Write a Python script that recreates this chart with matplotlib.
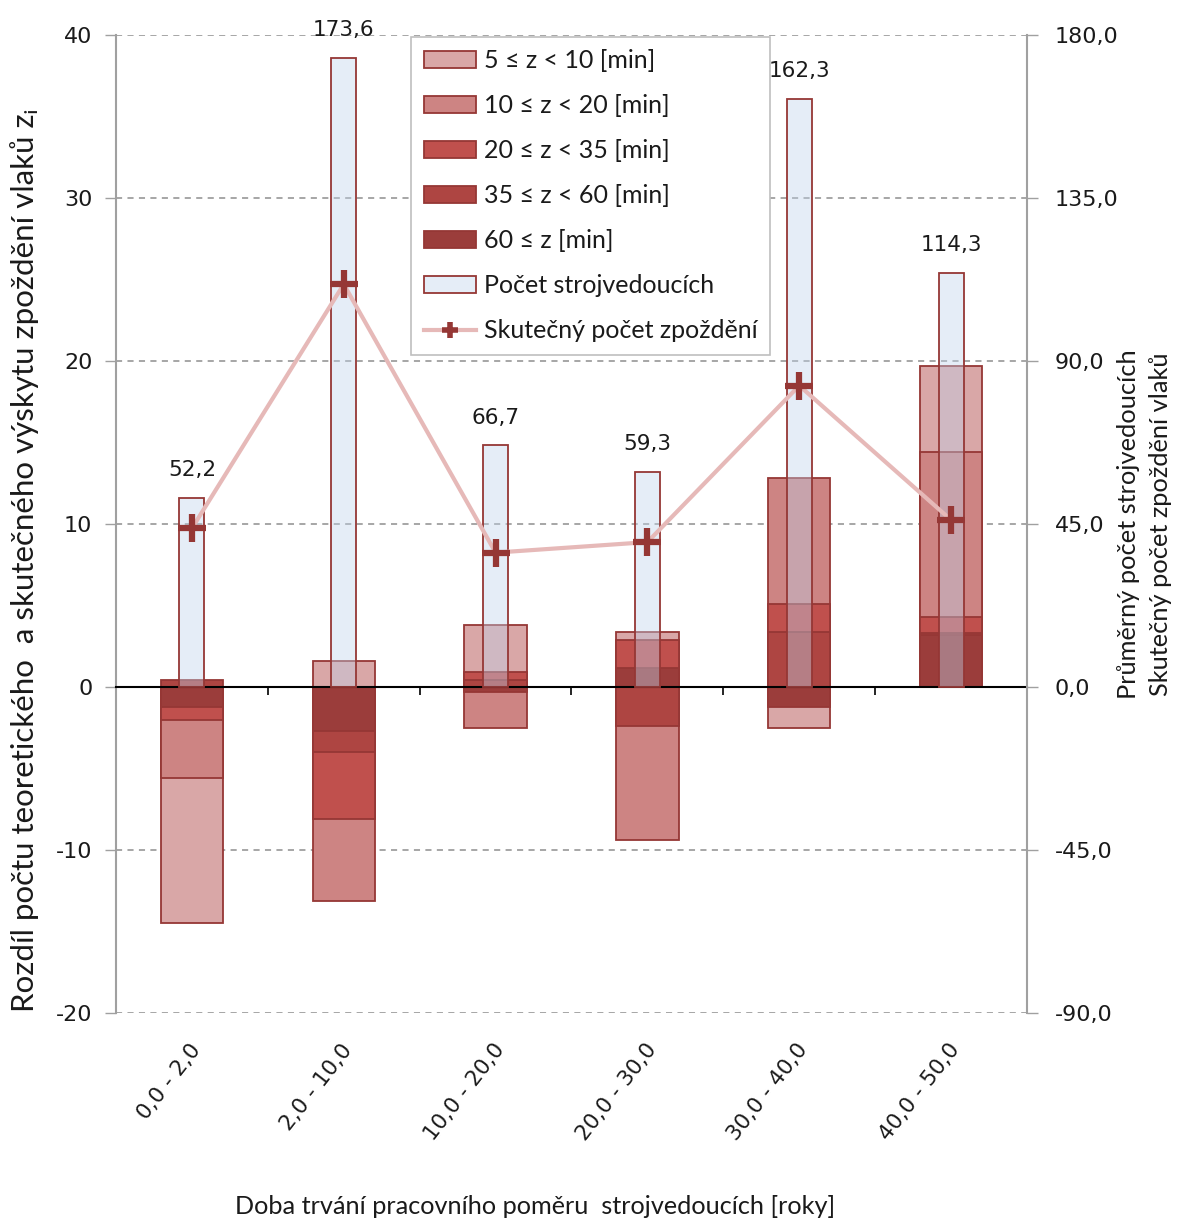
import matplotlib
matplotlib.use("Agg")
import matplotlib.pyplot as plt
import matplotlib.transforms as mtransforms
from matplotlib.colors import to_rgba
from matplotlib.patches import Patch
from matplotlib.lines import Line2D

# ---------------- data ----------------
categories = ["0,0 - 2,0", "2,0 - 10,0", "10,0 - 20,0", "20,0 - 30,0", "30,0 - 40,0", "40,0 - 50,0"]
d_5_10 = [-14.5, 1.6, 3.8, 3.4, -2.5, 19.7]
d_10_20 = [-5.6, -13.1, -2.5, -9.4, 12.8, 14.4]
d_20_35 = [-2.05, -8.1, 0.9, 2.9, 5.1, 4.3]
d_35_60 = [0.4, -4.0, 0.4, -2.4, 3.4, 3.3]
d_60 = [-1.2, -2.7, -0.3, 1.15, -1.2, 3.2]
drivers = [52.2, 173.6, 66.7, 59.3, 162.3, 114.3]
actual_delays = [43.8, 111.2, 37.1, 40.0, 83.2, 46.1]
left_ticks = [-20, -10, 0, 10, 20, 30, 40]
right_ticks = [-90, -45, 0, 45, 90, 135, 180]
series_labels = ["5 ≤ z < 10 [min]", "10 ≤ z < 20 [min]", "20 ≤ z < 35 [min]",
                 "35 ≤ z < 60 [min]", "60 ≤ z [min]"]
drivers_label = "Počet strojvedoucích"
line_label = "Skutečný počet zpoždění"

# ---------------- style ----------------
series_colors = ["#D9A7A7", "#CD8483", "#C0504D", "#AE4542", "#9B3D3B"]
edge = "#953735"
narrow_fill = to_rgba("#C0D4EB", 0.4)
line_col = "#E6B9B8"
txt = "#1a1a1a"
tfont = ["Lato", "DejaVu Sans"]

W, H = 1187, 1221
L, R, T, B = 116, 1027, 35, 1013
fig = plt.figure(figsize=(W / 100, H / 100), dpi=100)
ax = fig.add_axes([L / W, 1 - B / H, (R - L) / W, (B - T) / H])
ax2 = ax.twinx()

x = list(range(len(categories)))
series = [d_5_10, d_10_20, d_20_35, d_35_60, d_60]
for vals, col in zip(series, series_colors):
    ax.bar(x, vals, width=0.41, color=col, edgecolor=edge, linewidth=1.3, zorder=2)

ax.set_xlim(-0.5, len(categories) - 0.5)
ax.set_ylim(-20, 40)
ax2.set_ylim(-90, 180)

# narrow bars + line on secondary axis
ax2.bar(x, drivers, width=0.165, facecolor=narrow_fill, edgecolor=edge, linewidth=1.3, zorder=2)
ax2.plot(x, actual_delays, color=line_col, lw=3, marker="+", ms=20, mew=4.5,
         mec=edge, zorder=4)
for i, v in zip(x, drivers):
    ax2.annotate(f"{v:.1f}".replace(".", ","), xy=(i, v), xytext=(0, 20),
                 textcoords="offset points", ha="center", va="center",
                 fontsize=15.5, color=txt, annotation_clip=False)

# spines
for s in ["top", "right"]:
    ax.spines[s].set_visible(False)
ax.spines["left"].set_color("#A0A0A0")
ax.spines["left"].set_linewidth(1.5)
ax.spines["bottom"].set_position(("data", 0))
ax.spines["bottom"].set_color("black")
ax.spines["bottom"].set_linewidth(1.5)
for s in ["top", "bottom", "left"]:
    ax2.spines[s].set_visible(False)
ax2.spines["right"].set_color("#A0A0A0")
ax2.spines["right"].set_linewidth(1.5)

# ticks
ax.set_yticks(left_ticks)
ax.set_yticklabels([str(t) for t in left_ticks])
ax.tick_params(axis="y", direction="out", length=8, width=1, color="#A0A0A0",
               labelsize=16, pad=9, labelcolor=txt)
ax2.set_yticks(right_ticks)
ax2.set_yticklabels([f"{t:.1f}".replace(".", ",") for t in right_ticks])
ax2.tick_params(axis="y", direction="out", length=8, width=1, color="#A0A0A0",
                labelsize=16, pad=12, labelcolor=txt)
ax.set_xticks([])
ax.set_xticks([i + 0.5 for i in x[:-1]], minor=True)
ax.tick_params(axis="x", which="minor", direction="out", length=6, width=1.2, color="black")

# grid
ax.yaxis.grid(True, color="#8E8E8E", linestyle=(0, (4, 3.5)), linewidth=1.1)
ax.set_axisbelow(True)

# category labels
trans = mtransforms.blended_transform_factory(ax.transData, ax.transAxes)
for i, c in zip(x, categories):
    ax.text(i - 0.02, -0.0276, c, transform=trans, rotation=52, rotation_mode="anchor",
            ha="right", va="top", fontsize=15.5, color=txt)

# legend
handles = [Patch(facecolor=c, edgecolor=edge, linewidth=1.3) for c in series_colors]
handles.append(Patch(facecolor=narrow_fill, edgecolor=edge, linewidth=1.3))
handles.append(Line2D([], [], color=line_col, lw=3, marker="+", ms=12, mew=4, mec=edge))
labels = series_labels + [drivers_label, line_label]
leg = ax2.legend(handles, labels, loc="upper left", bbox_to_anchor=(0.324, 0.998),
                 borderaxespad=0, frameon=True, fancybox=False, edgecolor="#BFBFBF",
                 framealpha=1, handlelength=2.1, handleheight=0.68, labelspacing=0.88,
                 borderpad=0.5, handletextpad=0.3,
                 prop={"family": tfont, "size": 18})
leg.get_frame().set_linewidth(1.2)
for t in leg.get_texts():
    t.set_color(txt)

# axis titles
fig.text(25 / W, 1 - 560 / H, "Rozdíl počtu teoretického  a skutečného výskytu zpoždění vlaků zᵢ",
         rotation=90, ha="center", va="center", fontsize=22.5, family=tfont, color=txt)
fig.text(1128 / W, 1 - 524 / H, "Průměrný počet strojvedoucích",
         rotation=90, ha="center", va="center", fontsize=18.3, family=tfont, color=txt)
fig.text(1160 / W, 1 - 524 / H, "Skutečný počet zpoždění vlaků",
         rotation=90, ha="center", va="center", fontsize=18.3, family=tfont, color=txt)
fig.text(535 / W, 1 - 1207 / H, "Doba trvání pracovního poměru  strojvedoucích [roky]",
         ha="center", va="center", fontsize=18.2, family=tfont, color=txt)

fig.savefig("out.png", dpi=100)
